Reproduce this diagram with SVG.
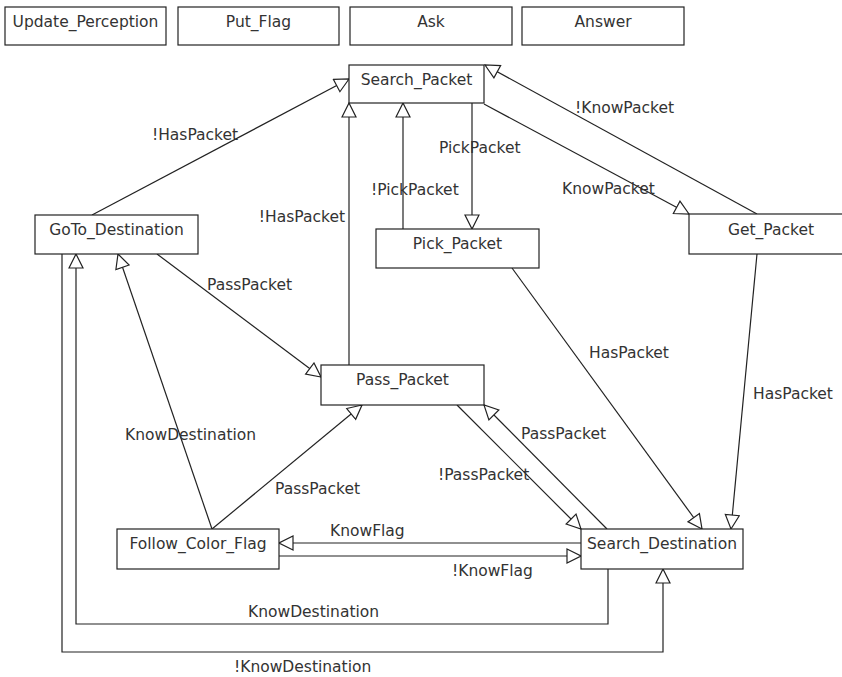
<svg xmlns="http://www.w3.org/2000/svg" width="842" height="677" viewBox="0 0 842 677">
<style>
.box{fill:#fff;stroke:#222;stroke-width:1.2}
.nt{font-family:"DejaVu Sans",sans-serif;font-size:15.5px;fill:#333;text-anchor:middle}
.lt{font-family:"DejaVu Sans",sans-serif;font-size:15.5px;fill:#333}
.e{fill:none;stroke:#222;stroke-width:1.2;marker-end:url(#a)}
.p{fill:none;stroke:#222;stroke-width:1.2}
</style>
<defs>
<marker id="a" markerUnits="userSpaceOnUse" viewBox="-1 -1 16 16" refX="14" refY="7" markerWidth="16" markerHeight="16" orient="auto">
<path d="M0,0 L14,7 L0,14 Z" fill="#fff" stroke="#222" stroke-width="1.2"/>
</marker>
</defs>
<rect width="842" height="677" fill="#fff"/>
<g id="edges">
<path class="e" d="M92,215 L349,79"/>
<path class="e" d="M349,365 L349,103"/>
<path class="e" d="M403,229 L403,103"/>
<path class="e" d="M472,103 L472,229"/>
<path class="e" d="M484,104 L689,214"/>
<path class="e" d="M757,214 L485,65"/>
<path class="e" d="M157,254 L321,377"/>
<path class="e" d="M212,529 L118,254"/>
<path class="e" d="M212,529 L362,405"/>
<path class="e" d="M457,405 L581,529"/>
<path class="e" d="M607,529 L484,405"/>
<path class="e" d="M512,268 L702,529"/>
<path class="e" d="M757,254 L731,529"/>
<path class="e" d="M581,543 L279,543"/>
<path class="e" d="M279,556 L581,556"/>
<path class="e" d="M608,569 L608,624 L76,624 L76,254"/>
<path class="e" d="M62,254 L62,652 L663,652 L663,569"/>
<text class="lt" x="152" y="140">!HasPacket</text>
<text class="lt" x="345" y="222" text-anchor="end">!HasPacket</text>
<text class="lt" x="371" y="195">!PickPacket</text>
<text class="lt" x="439" y="153">PickPacket</text>
<text class="lt" x="562" y="194">KnowPacket</text>
<text class="lt" x="575" y="113">!KnowPacket</text>
<text class="lt" x="207" y="290">PassPacket</text>
<text class="lt" x="125" y="440">KnowDestination</text>
<text class="lt" x="275" y="494">PassPacket</text>
<text class="lt" x="438" y="480">!PassPacket</text>
<text class="lt" x="521" y="439">PassPacket</text>
<text class="lt" x="589" y="358">HasPacket</text>
<text class="lt" x="753" y="399">HasPacket</text>
<text class="lt" x="330" y="536">KnowFlag</text>
<text class="lt" x="452" y="576">!KnowFlag</text>
<text class="lt" x="248" y="617">KnowDestination</text>
<text class="lt" x="234" y="672">!KnowDestination</text>
</g>
<g id="Update_Perception"><rect class="box" x="5" y="7" width="161" height="38"/><text class="nt" x="85.5" y="27">Update_Perception</text></g>
<g id="Put_Flag"><rect class="box" x="178" y="7" width="161" height="38"/><text class="nt" x="258.5" y="27">Put_Flag</text></g>
<g id="Ask"><rect class="box" x="350" y="7" width="162" height="38"/><text class="nt" x="431" y="27">Ask</text></g>
<g id="Answer"><rect class="box" x="522" y="7" width="162" height="38"/><text class="nt" x="603" y="27">Answer</text></g>
<g id="Search_Packet"><rect class="box" x="349" y="65" width="135" height="38"/><text class="nt" x="416.5" y="85">Search_Packet</text></g>
<g id="GoTo_Destination"><rect class="box" x="35" y="215" width="163" height="39"/><text class="nt" x="116.5" y="235">GoTo_Destination</text></g>
<g id="Pick_Packet"><rect class="box" x="376" y="229" width="163" height="39"/><text class="nt" x="457.5" y="249">Pick_Packet</text></g>
<g id="Get_Packet"><rect class="box" x="689" y="214" width="163" height="40"/><text class="nt" x="771" y="235">Get_Packet</text></g>
<g id="Pass_Packet"><rect class="box" x="321" y="365" width="163" height="40"/><text class="nt" x="402.5" y="385">Pass_Packet</text></g>
<g id="Follow_Color_Flag"><rect class="box" x="117" y="529" width="162" height="40"/><text class="nt" x="198" y="549">Follow_Color_Flag</text></g>
<g id="Search_Destination"><rect class="box" x="581" y="529" width="162" height="40"/><text class="nt" x="662" y="549">Search_Destination</text></g>
</svg>
